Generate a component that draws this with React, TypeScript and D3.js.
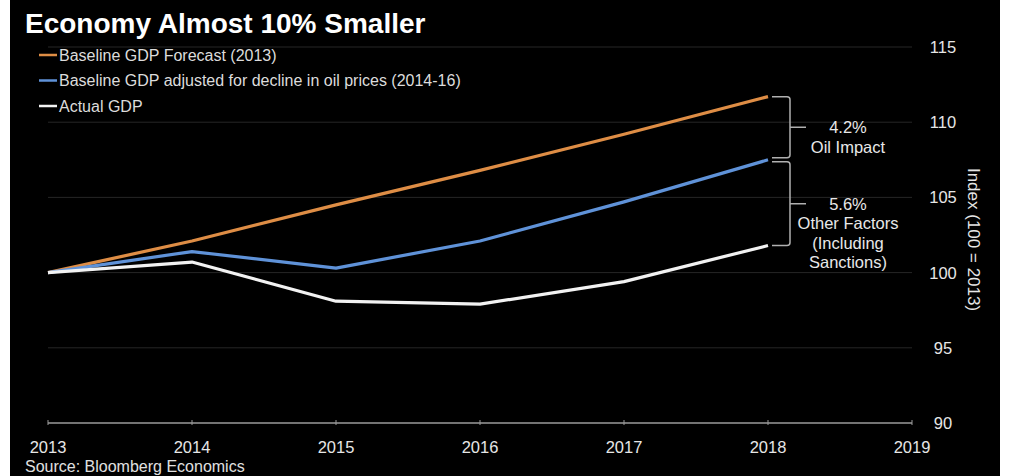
import * as d3 from 'd3';

const years = [2013, 2014, 2015, 2016, 2017, 2018];
const baselineForecast = [100, 102.1, 104.5, 106.8, 109.2, 111.7];
const oilAdjusted = [100, 101.4, 100.3, 102.1, 104.7, 107.5];
const actualGdp = [100, 100.7, 98.1, 97.9, 99.4, 101.8];

const xTicks = [2013, 2014, 2015, 2016, 2017, 2018, 2019];
const yTicks = [90, 95, 100, 105, 110, 115];

const series = [
  { name: 'Baseline GDP Forecast (2013)', values: baselineForecast, color: '#de8d45' },
  { name: 'Baseline GDP adjusted for decline in oil prices (2014-16)', values: oilAdjusted, color: '#5f92d8' },
  { name: 'Actual GDP', values: actualGdp, color: '#f2f2f2' },
];

const braces = [
  { from: 0, to: 1, label: ['4.2%', 'Oil Impact'] },
  { from: 1, to: 2, label: ['5.6%', 'Other Factors', '(Including', 'Sanctions)'] },
];

const W = 1010;
const H = 476;
const FONT = '"Liberation Sans", Arial, sans-serif';

export default function App() {
  const x = d3.scaleLinear().domain([2013, 2019]).range([48, 912]);
  const y = d3.scaleLinear().domain([90, 115]).range([423, 47]);

  const line = d3
    .line<number>()
    .x((_, i) => x(years[i]))
    .y((d) => y(d));

  const lastX = x(years[years.length - 1]);
  const braceX = lastX + 22;

  return (
    <svg
      width={W}
      height={H}
      style={{ position: 'absolute', left: 0, top: 0, fontFamily: FONT }}
    >
      <rect x={0} y={0} width={W} height={H} fill="#ffffff" />
      <rect x={10} y={0} width={990} height={H} fill="#000000" />

      {/* grid */}
      {yTicks.slice(1).map((t) => (
        <line key={t} x1={x(2013)} x2={x(2019)} y1={y(t)} y2={y(t)} stroke="#262626" strokeWidth={1} />
      ))}

      {/* x axis */}
      <line x1={x(2013)} x2={x(2019)} y1={y(90)} y2={y(90)} stroke="#9a9a9a" strokeWidth={1.5} />
      {xTicks.map((t) => (
        <g key={t}>
          <line x1={x(t)} x2={x(t)} y1={y(90) - 3} y2={y(90) + 2} stroke="#9a9a9a" strokeWidth={1} />
          <text x={x(t)} y={y(90) + 30} textAnchor="middle" fill="#e6e6e6" fontSize={16.5}>
            {t}
          </text>
        </g>
      ))}

      {/* y labels */}
      {yTicks.map((t) => (
        <text key={t} x={943} y={y(t) + 6} textAnchor="middle" fill="#e6e6e6" fontSize={16.5}>
          {t}
        </text>
      ))}
      <text
        transform={`translate(968, ${y(102.2)}) rotate(90)`}
        textAnchor="middle"
        fill="#e6e6e6"
        fontSize={17}
      >
        Index (100 = 2013)
      </text>

      {/* series */}
      {series.map((s) => (
        <path key={s.name} d={line(s.values) || ''} fill="none" stroke={s.color} strokeWidth={3.2} strokeLinejoin="round" />
      ))}

      {/* braces */}
      {braces.map((b, i) => {
        const y1 = y(series[b.from].values[years.length - 1]) + (i === 1 ? 2 : 0);
        const y2 = y(series[b.to].values[years.length - 1]) - (i === 0 ? 2 : 0);
        const ym = (y1 + y2) / 2;
        const r = 3;
        const x0 = lastX + 4;
        const d =
          `M${x0},${y1} H${braceX - r} Q${braceX},${y1} ${braceX},${y1 + r} V${y2 - r} Q${braceX},${y2} ${braceX - r},${y2} H${x0}` +
          ` M${braceX},${ym} H${braceX + 16}`;
        const lh = 19.5;
        const top = ym + 6;
        return (
          <g key={i}>
            <path d={d} fill="none" stroke="#b0b0b0" strokeWidth={1.5} />
            {b.label.map((t, j) => (
              <text key={j} x={848} y={top + j * lh} textAnchor="middle" fill="#e8e8e8" fontSize={16.5}>
                {t}
              </text>
            ))}
          </g>
        );
      })}

      {/* title */}
      <text x={25} y={33} fill="#ffffff" fontSize={28} fontWeight="bold">
        Economy Almost 10% Smaller
      </text>

      {/* legend */}
      {series.map((s, i) => (
        <g key={s.name} transform={`translate(39, ${55 + i * 25.5})`}>
          <line x1={0} x2={18} y1={0} y2={0} stroke={s.color} strokeWidth={2.5} />
          <text x={20} y={5.5} fill="#dcdcdc" fontSize={16}>
            {s.name}
          </text>
        </g>
      ))}

      <text x={25} y={472} fill="#e0e0e0" fontSize={16}>
        Source: Bloomberg Economics
      </text>
    </svg>
  );
}
